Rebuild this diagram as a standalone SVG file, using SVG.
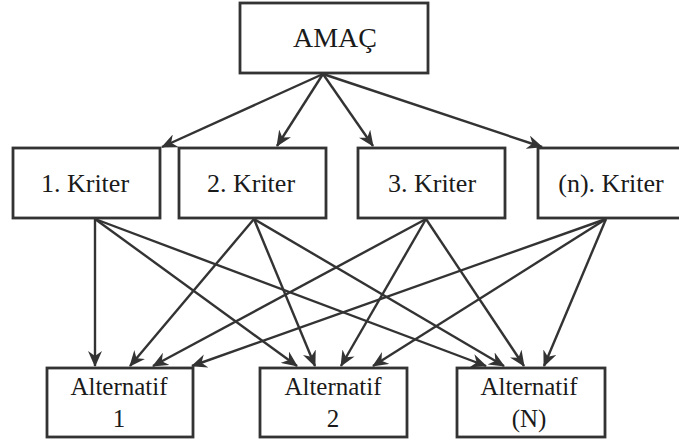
<svg xmlns="http://www.w3.org/2000/svg" width="679" height="441" viewBox="0 0 679 441">
<style>
.box{fill:#fff;stroke:#333;stroke-width:2.8}
.lbl{font-family:"Liberation Serif","Times New Roman",serif;fill:#1a1a1a;text-anchor:middle}
.edge{stroke:#333;stroke-width:2.4;fill:none;marker-end:url(#ah)}
</style>
<defs>
<marker id="ah" viewBox="0 0 16 14" refX="15" refY="7" markerWidth="16" markerHeight="14" markerUnits="userSpaceOnUse" orient="auto">
<path d="M0,0 L16,7 L0,14 L5,7 z" fill="#333"/>
</marker>
</defs>
<rect width="679" height="441" fill="#fff"/>
<g id="connectors">
<line class="edge" x1="323" y1="74" x2="162" y2="147"/>
<line class="edge" x1="323" y1="74" x2="277" y2="146"/>
<line class="edge" x1="323" y1="74" x2="373" y2="146"/>
<line class="edge" x1="323" y1="74" x2="542" y2="147"/>
<line class="edge" x1="95" y1="219" x2="95" y2="366"/>
<line class="edge" x1="95" y1="219" x2="297" y2="366"/>
<line class="edge" x1="95" y1="219" x2="486" y2="366"/>
<line class="edge" x1="254" y1="219" x2="130" y2="366"/>
<line class="edge" x1="254" y1="219" x2="315" y2="366"/>
<line class="edge" x1="254" y1="219" x2="504" y2="366"/>
<line class="edge" x1="426" y1="219" x2="153" y2="366"/>
<line class="edge" x1="426" y1="219" x2="341" y2="366"/>
<line class="edge" x1="426" y1="219" x2="524" y2="366"/>
<line class="edge" x1="606" y1="219" x2="192" y2="366"/>
<line class="edge" x1="606" y1="219" x2="373" y2="366"/>
<line class="edge" x1="606" y1="219" x2="544" y2="366"/>
</g>
<g id="amac">
<rect class="box" x="240" y="3" width="188" height="70"/>
<text class="lbl" x="335" y="47" font-size="28">AMAÇ</text>
</g>
<g id="kriter1">
<rect class="box" x="13" y="148" width="147" height="70"/>
<text class="lbl" x="85" y="192" font-size="26">1. Kriter</text>
</g>
<g id="kriter2">
<rect class="box" x="179" y="148" width="147" height="70"/>
<text class="lbl" x="251" y="192" font-size="26">2. Kriter</text>
</g>
<g id="kriter3">
<rect class="box" x="358" y="148" width="147" height="70"/>
<text class="lbl" x="432" y="192" font-size="26">3. Kriter</text>
</g>
<g id="kritern">
<rect class="box" x="538" y="148" width="147" height="70"/>
<text class="lbl" x="611" y="192" font-size="26">(n). Kriter</text>
</g>
<g id="alt1">
<rect class="box" x="47" y="368" width="146" height="69"/>
<text class="lbl" x="119" y="395" font-size="25">Alternatif</text>
<text class="lbl" x="119" y="427" font-size="25">1</text>
</g>
<g id="alt2">
<rect class="box" x="260" y="368" width="147" height="69"/>
<text class="lbl" x="333" y="395" font-size="25">Alternatif</text>
<text class="lbl" x="333" y="427" font-size="25">2</text>
</g>
<g id="altN">
<rect class="box" x="457" y="368" width="148" height="69"/>
<text class="lbl" x="529" y="395" font-size="25">Alternatif</text>
<text class="lbl" x="529" y="427" font-size="25">(N)</text>
</g>
</svg>
